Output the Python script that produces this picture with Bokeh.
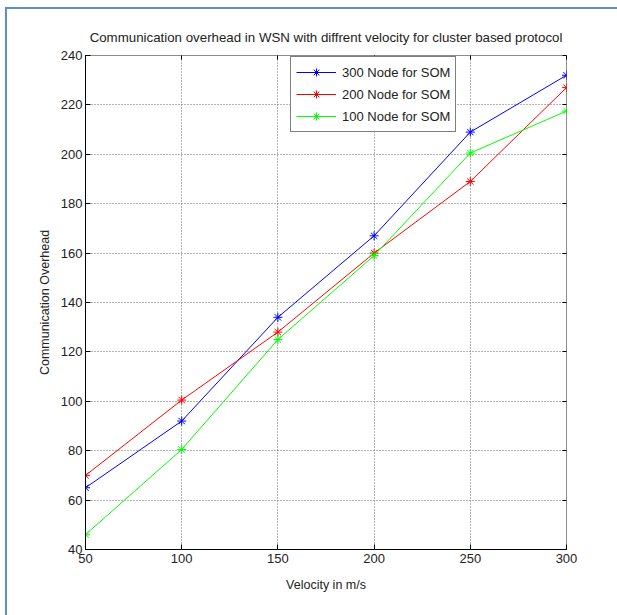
from bokeh.plotting import figure
from bokeh.models import Range1d, FixedTicker, LinearAxis, Legend, LegendItem
from bokeh.embed import file_html
from bokeh.resources import INLINE

velocity = [50, 100, 150, 200, 250, 300]
node300 = [65, 92, 134, 167, 209, 232]
node200 = [70, 100.5, 128, 160, 189, 227]
node100 = [46, 80.5, 125, 159, 200.5, 217.5]
series_labels = ["300 Node for SOM", "200 Node for SOM", "100 Node for SOM"]
x_ticks = [50, 100, 150, 200, 250, 300]
y_ticks = [40, 60, 80, 100, 120, 140, 160, 180, 200, 220, 240]

FONT = "Liberation Sans"

p = figure(width=617, height=615, output_backend="svg", toolbar_location=None,
           x_range=Range1d(50, 300), y_range=Range1d(40, 240),
           min_border_left=85, min_border_right=51, min_border_top=55, min_border_bottom=66)
p.background_fill_color = "white"
p.border_fill_color = "white"
p.border_fill_alpha = 0
p.outline_line_color = "#8c8c8c"
p.outline_line_width = 1

p.title.text = "Communication overhead in WSN with diffrent velocity for cluster based protocol"
p.title.text_font = FONT
p.title.text_font_size = "13.3px"
p.title.text_font_style = "normal"
p.title.text_color = "#222222"
p.title.align = "center"
p.title.offset = 0

for ax in (p.xaxis[0], p.yaxis[0]):
    ax.major_tick_in = 5
    ax.major_tick_out = 0
    ax.minor_tick_in = 0
    ax.minor_tick_out = 0
    ax.axis_line_color = "black"
    ax.major_tick_line_color = "black"
    ax.major_label_text_font = FONT
    ax.major_label_text_font_size = "13px"
    ax.major_label_text_color = "#222222"
    ax.axis_label_text_font = FONT
    ax.axis_label_text_font_size = "12.5px"
    ax.axis_label_text_font_style = "normal"
    ax.axis_label_text_color = "#222222"

p.xaxis[0].ticker = FixedTicker(ticks=x_ticks)
p.yaxis[0].ticker = FixedTicker(ticks=y_ticks)
p.xaxis[0].axis_label = "Velocity in m/s"
p.yaxis[0].axis_label = "Communication Overhead"
p.xaxis[0].major_label_standoff = 4
p.xaxis[0].axis_label_standoff = 12
p.yaxis[0].major_label_standoff = 3
p.yaxis[0].axis_label_standoff = 6

top_ax = LinearAxis(ticker=FixedTicker(ticks=x_ticks),
                    major_label_overrides={t: "" for t in x_ticks},
                    major_tick_in=4, major_tick_out=0, minor_tick_in=0, minor_tick_out=0,
                    axis_line_color=None, major_tick_line_color="black", major_label_standoff=0)
right_ax = LinearAxis(ticker=FixedTicker(ticks=y_ticks),
                      major_label_overrides={t: "" for t in y_ticks},
                      major_tick_in=4, major_tick_out=0, minor_tick_in=0, minor_tick_out=0,
                      axis_line_color=None, major_tick_line_color="black", major_label_standoff=0)
# invisible axis used only as spacing between the plot box and the title
spacer_ax = LinearAxis(ticker=FixedTicker(ticks=x_ticks),
                       major_label_overrides={t: "" for t in x_ticks},
                       major_tick_in=0, major_tick_out=6, minor_tick_in=0, minor_tick_out=0,
                       axis_line_color=None, major_tick_line_color=None, major_label_standoff=0)
p.add_layout(top_ax, "above")
p.add_layout(spacer_ax, "above")
p.add_layout(right_ax, "right")

p.xgrid[0].ticker = FixedTicker(ticks=x_ticks)
p.ygrid[0].ticker = FixedTicker(ticks=y_ticks)
for g in (p.xgrid[0], p.ygrid[0]):
    g.grid_line_color = "#6a6a6a"
    g.grid_line_dash = "1 2"
    g.grid_line_width = 1

colors = ["#0000ff", "#ff0000", "#00ff00"]
items = []
for ys, c, lab in zip([node300, node200, node100], colors, series_labels):
    r1 = p.line(velocity, ys, line_color=c, line_width=1)
    r2 = p.scatter(velocity, ys, marker="asterisk", size=9, line_color=c, line_width=1)
    items.append(LegendItem(label=lab, renderers=[r1, r2]))

legend = Legend(items=items, location=(205, 417))
legend.label_text_font = FONT
legend.label_text_font_size = "13px"
legend.label_text_color = "#222222"
legend.border_line_color = "black"
legend.border_line_width = 1
legend.background_fill_color = "white"
legend.background_fill_alpha = 1
legend.glyph_width = 40
legend.glyph_height = 20
legend.label_height = 20
legend.spacing = 2
legend.padding = 5
legend.margin = 0
legend.label_standoff = 6
p.add_layout(legend, "center")

# blue page frame on the top and left only, painted behind the transparent border area
p.styles = {"background": "linear-gradient(#5b8dd6, #5b8dd6) 5px 7px / 612px 2px no-repeat, "
                          "linear-gradient(#5b8dd6, #5b8dd6) 5px 7px / 2px 608px no-repeat, #ffffff"}

open("out.html", "w").write(file_html(p, INLINE))
